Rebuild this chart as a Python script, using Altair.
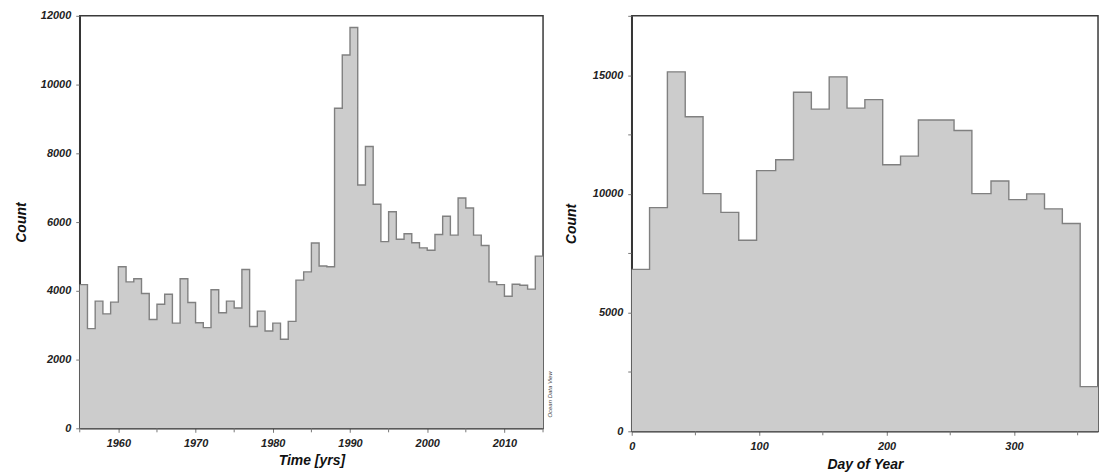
import altair as alt
import pandas as pd

# ---- data: yearly counts (bins of one year, 1955-2014) ----
years = list(range(1955, 2015))
year_counts = [
    4180, 2900, 3700, 3330, 3670, 4700, 4260, 4350, 3920, 3165,
    3610, 3900, 3060, 4350, 3660, 3070, 2930, 4030, 3360, 3700,
    3500, 4620, 2960, 3410, 2830, 3060, 2590, 3110, 4310, 4550,
    5390, 4720, 4700, 9310, 10860, 11660, 7080, 8200, 6520, 5430,
    6300, 5500, 5660, 5400, 5250, 5180, 5640, 6170, 5620, 6700,
    6410, 5620, 5320, 4260, 4180, 3840, 4190, 4160, 4050, 5010,
]
year_end = 2015
year_labels = [1960, 1970, 1980, 1990, 2000, 2010]
year_minor = [1955, 1965, 1975, 1985, 1995, 2005, 2015]

# ---- data: day-of-year counts (26 bins over 0-366) ----
day_bin_start = [0, 14, 28, 42, 56, 70, 84, 98, 113, 127, 141, 155, 169,
                 183, 197, 211, 225, 239, 253, 267, 282, 296, 310, 324, 338, 352]
day_counts = [6820, 9420, 15140, 13250, 10010, 9220, 8050, 10980, 11440,
              14280, 13570, 14930, 13610, 13970, 11230, 11590, 13110, 13110,
              12670, 10010, 10540, 9760, 10000, 9370, 8750, 1880]
day_end = 366
day_labels = [0, 100, 200, 300]
day_minor = [50, 150, 250, 350]

# step tables (repeat last value at the closing edge)
df_year = pd.DataFrame({"x": years + [year_end], "y": year_counts + [year_counts[-1]]})
df_day = pd.DataFrame({"x": day_bin_start + [day_end], "y": day_counts + [day_counts[-1]]})

FONT = "Liberation Sans"
FILL = "#cccccc"
EDGE = "#808080"
TICK = "#777777"
FRAME = "#3a3a3a"

common = dict(
    labelFont=FONT, labelFontSize=11, labelFontStyle="italic", labelFontWeight="bold",
    labelColor="#222222", titleFont=FONT, titleFontSize=14, titleFontStyle="italic",
    titleFontWeight="bold", titleColor="#111111", domainColor="#333333", domainWidth=1.5,
    tickColor=TICK, tickSize=4, tickWidth=1, grid=False, labelPadding=5,
    labelOverlap=False, labelFlush=False, format="d",
)


def panel(df, xdom, xvals, xminor, xtitle, xtpad, ydom, yvals, ylab_every, ytpad, w, h, odv=False):
    xenc = alt.X(
        "x:Q",
        scale=alt.Scale(domain=xdom, nice=False, zero=False),
        axis=alt.Axis(title=xtitle, values=xvals, titlePadding=xtpad, **common),
    )
    yenc = alt.Y(
        "y:Q",
        scale=alt.Scale(domain=ydom, nice=False),
        axis=alt.Axis(title="Count", values=yvals,
                      labelExpr=f"datum.value % {ylab_every} == 0 ? datum.label : ''",
                      titlePadding=ytpad, **common),
    )
    base = alt.Chart(df)
    area = base.mark_area(interpolate="step-after", color=FILL, opacity=1).encode(x=xenc, y=yenc)
    line = base.mark_line(interpolate="step-after", color=EDGE, strokeWidth=1.4).encode(x="x:Q", y="y:Q")
    minor = alt.Chart(pd.DataFrame({"x": xminor})).mark_rule(color=TICK, strokeWidth=1).encode(
        x="x:Q", y=alt.value(h), y2=alt.value(h + 4)
    )
    layers = [area, line, minor]
    if odv:
        txt = alt.Chart(pd.DataFrame({"t": ["Ocean Data View"]})).mark_text(
            angle=270, fontSize=6, fontStyle="italic", font=FONT, color="#444444",
            align="center", baseline="middle",
        ).encode(text="t:N", x=alt.value(w + 7), y=alt.value(380))
        layers.append(txt)
    return alt.layer(*layers).properties(
        width=w, height=h, view=alt.ViewBackground(stroke=FRAME, strokeWidth=1.5)
    )


left = panel(df_year, [1955, 2015], year_labels, year_minor, "Time [yrs]", 5,
             [0, 12000], list(range(0, 12001, 1000)), 2000, 12, 465, 414, odv=True)
right = panel(df_day, [0, 366], day_labels, day_minor, "Day of Year", 6,
              [0, 17500], list(range(0, 17501, 2500)), 5000, 14, 468, 417)

chart = alt.hconcat(left, right, spacing=89, bounds="flush").properties(
    padding={"left": 5, "top": 0, "right": 0, "bottom": 0}
).configure(background="white")

chart.save("out.html", embed_options={"renderer": "svg", "actions": False})
